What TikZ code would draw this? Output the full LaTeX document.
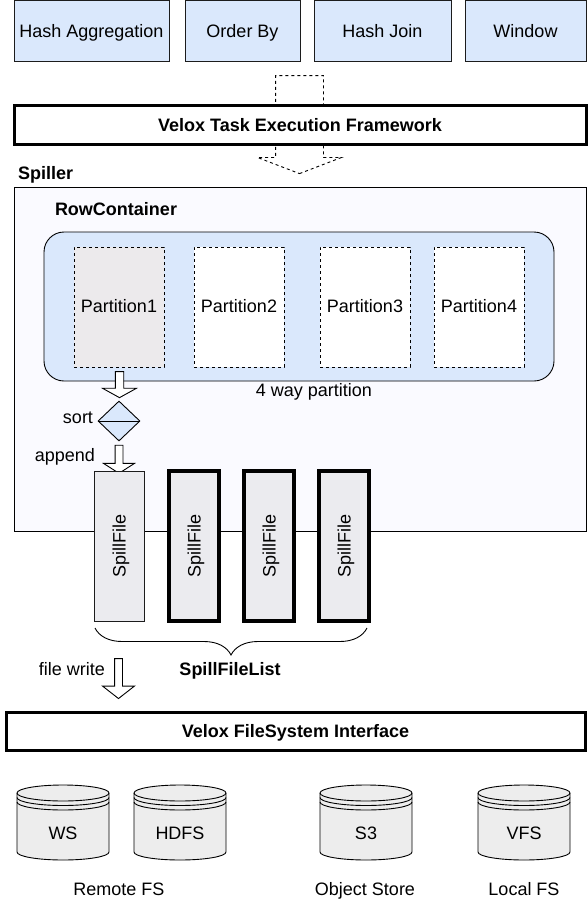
\documentclass[tikz,border=0pt]{standalone}
\usepackage{fontspec}
\setmainfont{Liberation Sans}
\usetikzlibrary{positioning,shapes.geometric,shapes.arrows,decorations.pathreplacing}
\definecolor{opblue}{HTML}{DAE8FC}
\definecolor{spillbg}{HTML}{FAFAFF}
\definecolor{filegray}{HTML}{EBEBEF}
\definecolor{partgray}{HTML}{ECEAEC}
\definecolor{diskgray}{HTML}{EDEDED}
\definecolor{ink}{HTML}{1C1C1C}
\newcommand{\bigfont}{\fontsize{18}{20}\selectfont}
\tikzset{
  txt/.style={text height=17pt, text depth=4pt, inner sep=0pt, outer sep=0pt},
  boldtxt/.style={txt, font=\bigfont\bfseries},
  opbox/.style={txt, draw=ink, fill=opblue, line width=0.9pt, minimum height=61pt},
  barbox/.style={boldtxt, draw=black, fill=white, line width=3pt},
  partbox/.style={txt, text depth=6pt, draw=black, dashed, fill=white, line width=0.9pt, minimum width=90pt, minimum height=120pt},
  filebox/.style={txt, draw=black, fill=filegray, rotate=90, minimum width=150pt, minimum height=50pt},
  blockarrow/.style={draw=black, fill=white, line width=0.9pt, single arrow, shape border rotate=270, outer sep=0pt},
  disk/.style={draw=black, fill=diskgray, line width=0.9pt},
}
\newcommand{\fsdisk}[3]{%
  \draw[disk] (#2,793) arc[start angle=180, end angle=0, x radius=46pt, y radius=8pt]
    -- (#2+92,852) arc[start angle=0, end angle=-180, x radius=46pt, y radius=8pt] -- cycle;
  \foreach \dy in {0,4.5,9}
    \draw[line width=0.9pt] (#2,793+\dy) arc[start angle=180, end angle=360, x radius=46pt, y radius=8pt];
  \node[txt] (#1) at (#2+46,833) {#3};
}
\begin{document}
\begin{tikzpicture}[x=1pt, y=-1pt, font=\bigfont]
  \useasboundingbox[fill=white] (0,0) rectangle (587,914);

  % operators
  \node[opbox, minimum width=155pt, anchor=north west] (hashagg) at (14,0.5) {Hash Aggregation};
  \node[opbox, minimum width=115pt, right=16pt of hashagg] (orderby) {Order By};
  \node[opbox, minimum width=137pt, right=14pt of orderby] (hashjoin) {Hash Join};
  \node[opbox, minimum width=121pt, right=14pt of hashjoin] (window) {Window};

  % task framework
  \node[blockarrow, dashed, inner sep=23.5pt, minimum height=98pt, minimum width=83pt, single arrow head extend=18pt, single arrow tip angle=138] (taskarrow) at (299.5,120) {};
  \node[barbox, minimum width=572pt, minimum height=39pt, anchor=north west] (taskbar) at (14,105.5) {Velox Task Execution Framework};

  % spiller
  \node[boldtxt, anchor=west] (spillerlabel) at (18,173) {Spiller};
  \node[draw=black, fill=spillbg, line width=0.9pt, outer sep=0pt, minimum width=572pt, minimum height=344pt, anchor=north west] (spiller) at (14,187) {};
  \node[boldtxt, anchor=west] (rowlabel) at (55,209) {RowContainer};
  \node[draw=black, fill=opblue, line width=0.9pt, rounded corners=20pt, outer sep=0pt, minimum width=510pt, minimum height=149pt, anchor=north west] (rowcontainer) at (44,232) {};
  \node[partbox, fill=partgray, anchor=north west] (part1) at (74,247) {Partition1};
  \node[partbox, right=30pt of part1] (part2) {Partition2};
  \node[partbox, right=36pt of part2] (part3) {Partition3};
  \node[partbox, right=24pt of part3] (part4) {Partition4};
  \node[txt] (waylabel) at (314,390) {4 way partition};

  % sort and append
  \node[blockarrow, inner sep=3.75pt, minimum height=26pt, minimum width=33pt, single arrow head extend=12.75pt, single arrow tip angle=122] (sortarrow) at (119.5,383.5) {};
  \node[diamond, draw=black, fill=opblue, line width=0.9pt, inner sep=0pt, aspect=1.05, minimum width=42pt, minimum height=40pt] (sort) at (119,421) {};
  \draw[line width=0.9pt] (sort.west) -- (sort.east);
  \node[txt, anchor=east] (sortlabel) at (93,417) {sort};
  \node[blockarrow, inner sep=3.5pt, minimum height=28pt, minimum width=30pt, single arrow head extend=11.5pt, single arrow tip angle=115] (appendarrow) at (119,458) {};
  \node[txt, anchor=east] (appendlabel) at (95,455) {append};

  % spill files
  \node[filebox, draw=ink, line width=0.9pt] (file1) at (119,546) {SpillFile};
  \node[filebox, line width=4pt] (file2) at (194,546) {SpillFile};
  \node[filebox, line width=4pt] (file3) at (269,546) {SpillFile};
  \node[filebox, line width=4pt] (file4) at (344,546) {SpillFile};
  \coordinate (braceleft) at (95,628);
  \coordinate (braceright) at (367,628);
  \draw[line width=0.9pt, decorate, decoration={brace, mirror, amplitude=27pt}] (braceleft) -- (braceright);
  \node[boldtxt] (listlabel) at (230,669) {SpillFileList};

  % file system
  \node[blockarrow, inner sep=3.5pt, minimum height=40pt, minimum width=31pt, single arrow head extend=12pt, single arrow tip angle=104] (writearrow) at (118.5,677) {};
  \node[txt, anchor=east] (writelabel) at (105,669) {file write};
  \node[barbox, minimum width=579pt, minimum height=38pt, anchor=north west] (fsbar) at (6,712) {Velox FileSystem Interface};

  \fsdisk{ws}{17}{WS}
  \fsdisk{hdfs}{134}{HDFS}
  \fsdisk{sthree}{320}{S3}
  \fsdisk{vfs}{478}{VFS}
  \node[txt] (remote) at (119,889) {Remote FS};
  \node[txt] (object) at (365,889) {Object Store};
  \node[txt] (local) at (524,889) {Local FS};
\end{tikzpicture}
\end{document}
